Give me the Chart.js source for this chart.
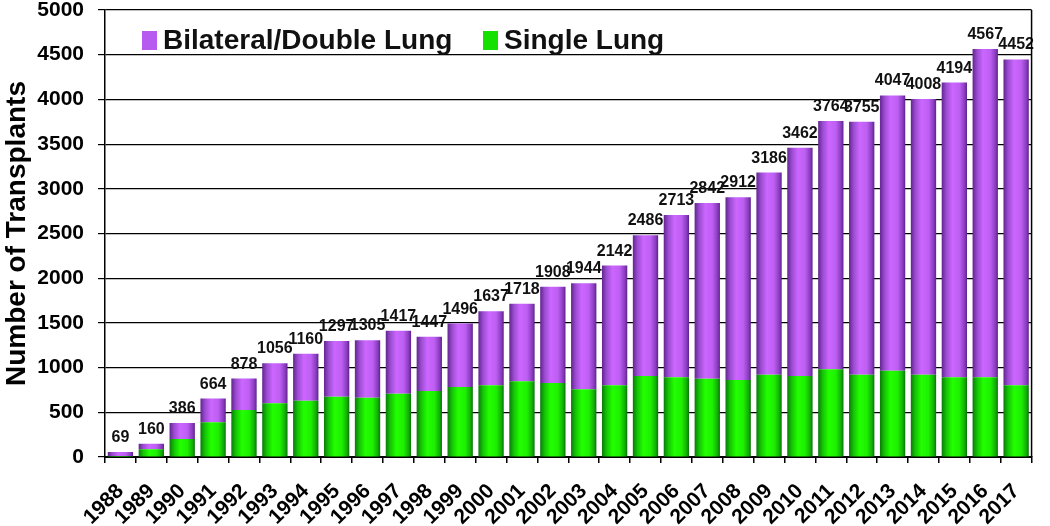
<!DOCTYPE html>
<html>
<head>
<meta charset="utf-8">
<style>
  html, body { margin: 0; padding: 0; background: #ffffff; }
  #wrap { width: 1050px; height: 526px; position: relative; }
</style>
<script src="https://cdn.jsdelivr.net/npm/chart.js@4.4.1/dist/chart.umd.min.js"></script>
</head>
<body>
<div id="wrap"><canvas id="c" width="1050" height="526"></canvas></div>
<script>
const years = ['1988','1989','1990','1991','1992','1993','1994','1995','1996','1997','1998','1999','2000','2001','2002','2003','2004','2005','2006','2007','2008','2009','2010','2011','2012','2013','2014','2015','2016','2017'];
const singleLung = [10, 86, 201, 388, 526, 600, 630, 675, 664, 708, 738, 783, 802, 847, 828, 757, 802, 906, 891, 876, 861, 921, 906, 981, 921, 966, 921, 891, 891, 802];
const doubleLung = [45, 62, 178, 266, 352, 450, 525, 622, 641, 704, 608, 710, 828, 868, 1075, 1187, 1340, 1575, 1817, 1966, 2045, 2260, 2553, 2778, 2829, 3078, 3083, 3298, 3672, 3645];
const totalLabels = ['69','160','386','664','878','1056','1160','1297','1305','1417','1447','1496','1637','1718','1908','1944','2142','2486','2713','2842','2912','3186','3462','3764','3755','4047','4008','4194','4567','4452'];
const yTicks = [0, 500, 1000, 1500, 2000, 2500, 3000, 3500, 4000, 4500, 5000];

const BAR_PCT = 0.82;
const purpleStops = [[0, '#62248f'], [0.18, '#9a4cd0'], [0.42, '#cc66ff'], [0.7, '#bd5ff2'], [0.9, '#8a3cc0'], [1, '#5e228a']];
const greenStops = [[0, '#0a7a0a'], [0.18, '#14c404'], [0.42, '#22ff00'], [0.7, '#1ef000'], [0.9, '#12b006'], [1, '#0a720a']];
const PURPLE = '#b75af0';
const GREEN = '#16e000';

const gradientPlugin = {
  id: 'barGradient',
  beforeDatasetsDraw(chart) {
    const ctx = chart.ctx;
    chart.data.datasets.forEach((ds, di) => {
      const stops = ds.gradientStops;
      chart.getDatasetMeta(di).data.forEach(el => {
        const w = el.width;
        const g = ctx.createLinearGradient(el.x - w / 2, 0, el.x + w / 2, 0);
        stops.forEach(s => g.addColorStop(s[0], s[1]));
        el.options = Object.assign({}, el.options, { backgroundColor: g });
      });
    });
  }
};

const labelPlugin = {
  id: 'totals',
  afterDatasetsDraw(chart) {
    const ctx = chart.ctx;
    const xs = chart.scales.x, ys = chart.scales.y;
    ctx.save();
    ctx.font = 'bold 16px "Liberation Sans", Arial, sans-serif';
    ctx.fillStyle = '#111111';
    ctx.textAlign = 'center';
    ctx.textBaseline = 'alphabetic';
    for (let i = 0; i < years.length; i++) {
      const top = singleLung[i] + doubleLung[i];
      const x = xs.getPixelForValue(i);
      const y = ys.getPixelForValue(top);
      ctx.fillText(totalLabels[i], x, y - 10);
    }
    ctx.restore();
  }
};

const framePlugin = {
  id: 'frame',
  afterDraw(chart) {
    const ctx = chart.ctx, a = chart.chartArea;
    ctx.save();
    ctx.strokeStyle = '#000000';
    ctx.lineWidth = 1.5;
    ctx.beginPath();
    ctx.moveTo(a.right, a.top);
    ctx.lineTo(a.right, a.bottom);
    ctx.stroke();
    const items = [
      { text: chart.data.datasets[1].label, color: PURPLE, x: 142 },
      { text: chart.data.datasets[0].label, color: GREEN, x: 483 }
    ];
    ctx.font = 'bold 28px "Liberation Sans", Arial, sans-serif';
    ctx.textBaseline = 'middle';
    ctx.textAlign = 'left';
    items.forEach(it => {
      ctx.fillStyle = it.color;
      ctx.fillRect(it.x, 31, 15, 19);
      ctx.fillStyle = '#111111';
      ctx.fillText(it.text, it.x + 21, 41);
    });
    ctx.restore();
  }
};

new Chart(document.getElementById('c'), {
  type: 'bar',
  data: {
    labels: years,
    datasets: [
      {
        label: 'Single Lung',
        data: singleLung,
        backgroundColor: GREEN,
        gradientStops: greenStops,
        borderWidth: 0,
        stack: 's'
      },
      {
        label: 'Bilateral/Double Lung',
        data: doubleLung,
        backgroundColor: PURPLE,
        gradientStops: purpleStops,
        borderWidth: 0,
        stack: 's'
      }
    ]
  },
  options: {
    responsive: false,
    animation: false,
    devicePixelRatio: 1,
    barPercentage: BAR_PCT,
    categoryPercentage: 1.0,
    layout: { padding: { top: 0, right: 3, left: 0, bottom: 0 } },
    plugins: {
      legend: { display: false },
      tooltip: { enabled: false }
    },
    scales: {
      x: {
        stacked: true,
        grid: { offset: true, drawOnChartArea: false, drawTicks: true, tickLength: 6, color: '#000000', lineWidth: 1.5 },
        border: { display: true, color: '#000000', width: 2 },
        ticks: {
          color: '#000000',
          font: { family: '"Liberation Sans", Arial, sans-serif', size: 21, weight: 'bold' },
          minRotation: 45, maxRotation: 45,
          autoSkip: false,
          padding: 16
        },
        afterFit(s) { s.height = 69; }
      },
      y: {
        stacked: true,
        min: 0, max: 5000,
        afterBuildTicks(s) { s.ticks = yTicks.map(v => ({ value: v })); },
        grid: { color: '#000000', lineWidth: 1.2, drawTicks: true, tickLength: 7 },
        border: { display: true, color: '#000000', width: 1.5 },
        ticks: {
          color: '#000000',
          font: { family: '"Liberation Sans", Arial, sans-serif', size: 21, weight: 'bold' },
          padding: 14,
          callback: (v) => String(v)
        },
        title: {
          display: true,
          text: 'Number of Transplants',
          color: '#000000',
          font: { family: '"Liberation Sans", Arial, sans-serif', size: 28, weight: 'bold' },
          padding: { top: 0, bottom: 1 }
        },
        afterFit(s) { s.width = 105; s.paddingTop = 10; s.paddingBottom = 0; }
      }
    }
  },
  plugins: [gradientPlugin, labelPlugin, framePlugin]
});
</script>
</body>
</html>
